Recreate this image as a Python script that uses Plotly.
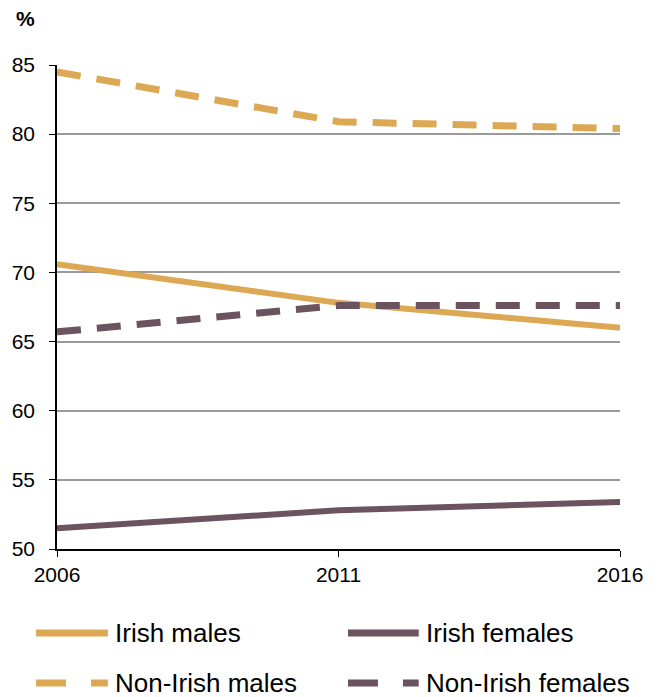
import plotly.graph_objects as go

years = [2006, 2011, 2016]
irish_males = [70.6, 67.8, 66.0]
irish_females = [51.5, 52.8, 53.4]
non_irish_males = [84.5, 80.9, 80.4]
non_irish_females = [65.7, 67.6, 67.6]

series_names = ["Irish males", "Irish females", "Non-Irish males", "Non-Irish females"]

ORANGE = "#DDA853"
PURPLE = "#6B535F"
DASH = "24px,16px"
LEG_DASH = "30px,25px"

fig = go.Figure()
specs = [
    (irish_males, ORANGE, "solid", 6),
    (irish_females, PURPLE, "solid", 6),
    (non_irish_males, ORANGE, DASH, 7),
    (non_irish_females, PURPLE, DASH, 7),
]
for name, (vals, col, dash, w) in zip(series_names, specs):
    fig.add_trace(go.Scatter(x=years, y=vals, name=name, mode="lines",
                             line=dict(color=col, width=w, dash=dash), showlegend=False))

# manual legend (2 x 2 grid) in paper coordinates
shapes = []
annotations = []
leg_rows = [-0.1736, -0.2769]
leg_cols = [(-0.0372, 0.0903, 0.0991), (0.5168, 0.6425, 0.6513)]
for i, (name, (vals, col, dash, w)) in enumerate(zip(series_names, specs)):
    r, c = divmod(i, 2)
    x0, x1, xt = leg_cols[c]
    y = leg_rows[r]
    shapes.append(dict(type="line", xref="paper", yref="paper", x0=x0, x1=x1, y0=y, y1=y,
                       line=dict(color=col, width=7, dash=LEG_DASH if dash != "solid" else "solid")))
    annotations.append(dict(text=name, xref="paper", yref="paper", x=xt, y=y, xanchor="left",
                            yanchor="middle", showarrow=False, font=dict(size=26)))

annotations.append(dict(text="<b>%</b>", xref="paper", yref="paper", x=-0.076, y=1.096,
                        xanchor="left", yanchor="middle", showarrow=False, font=dict(size=21)))

fig.update_layout(
    width=660, height=697,
    margin=dict(l=55, r=40, t=65, b=148),
    paper_bgcolor="white", plot_bgcolor="white",
    font=dict(family="Liberation Sans, Arial, sans-serif", color="black", size=21),
    showlegend=False,
    xaxis=dict(range=[2006, 2016], tickvals=years, ticktext=[str(y) for y in years],
               showgrid=False, showline=True, linecolor="black", linewidth=1.5,
               ticks="outside", ticklen=6, tickcolor="black", zeroline=False,
               tickfont=dict(size=21)),
    yaxis=dict(range=[50, 85], dtick=5, showgrid=True, gridcolor="#9a9a9a", gridwidth=1.5,
               showline=True, linecolor="black", linewidth=1.5, ticks="outside",
               ticklen=6, tickcolor="black", zeroline=False, tickfont=dict(size=21),
               ticklabelstandoff=10),
    shapes=shapes,
    annotations=annotations,
)
fig.write_html("out.html", config={"displayModeBar": False},
               post_script="document.body.style.margin='0';document.body.style.overflow='hidden';")
